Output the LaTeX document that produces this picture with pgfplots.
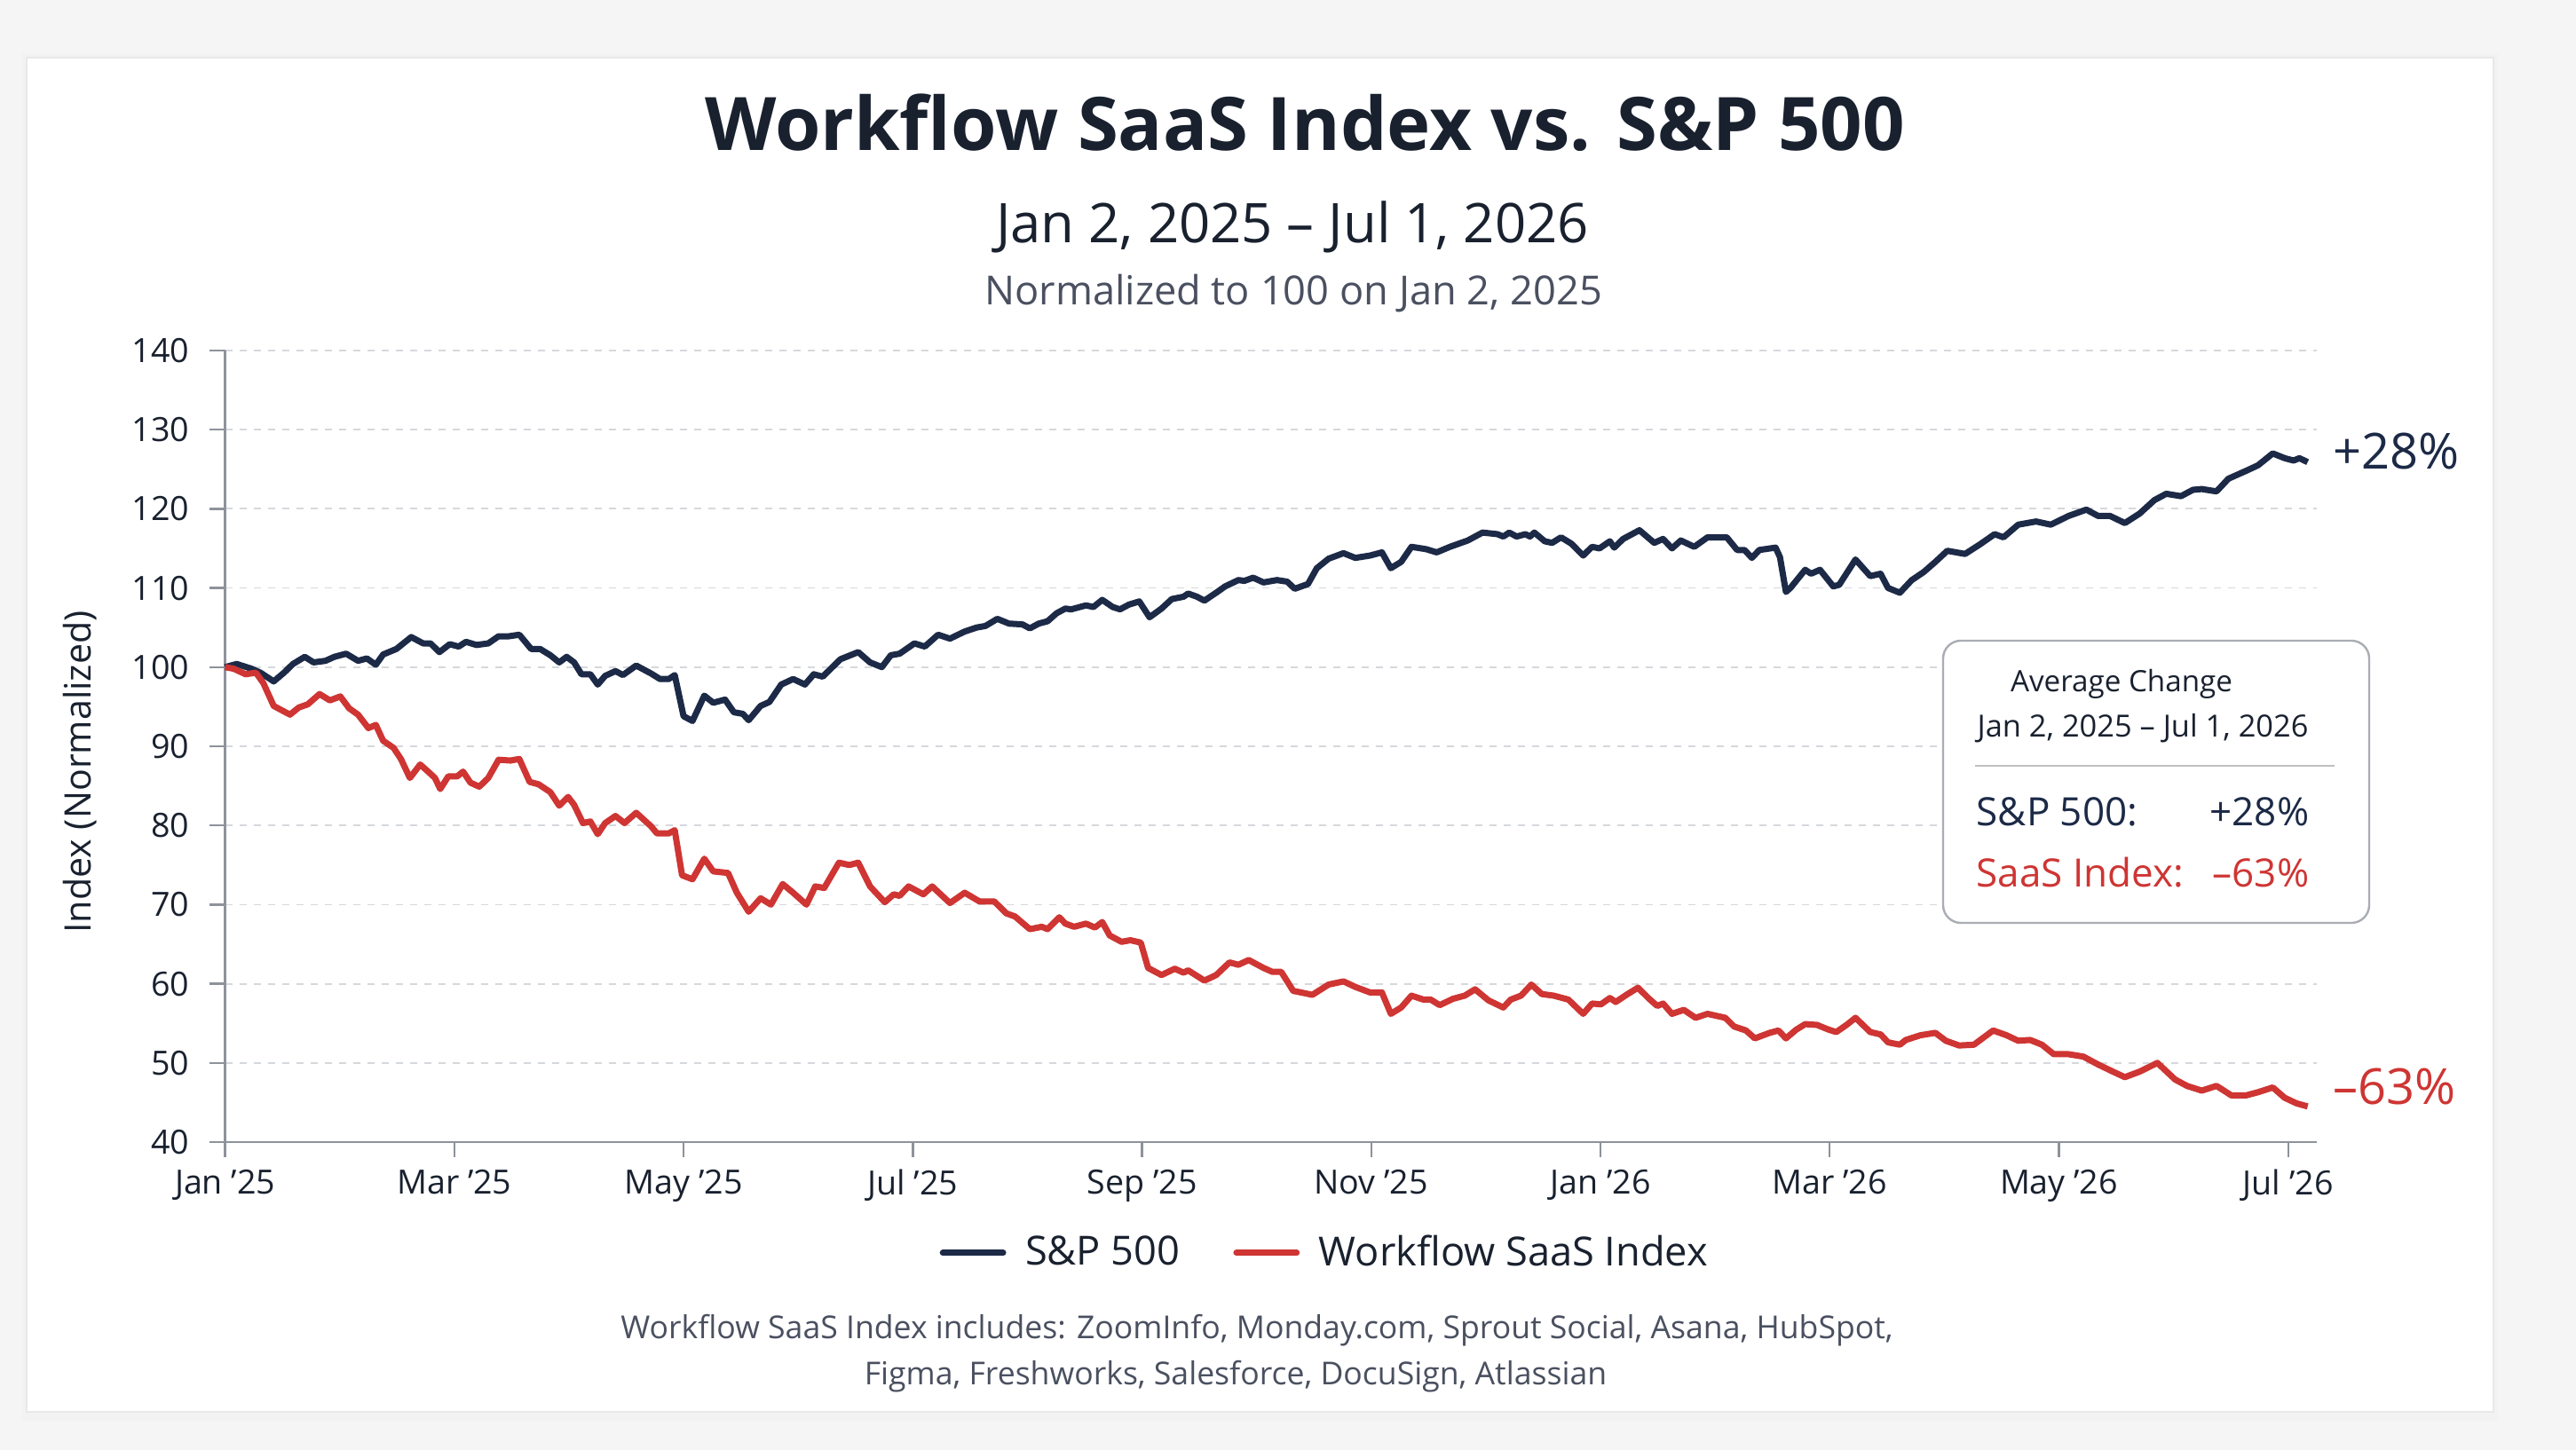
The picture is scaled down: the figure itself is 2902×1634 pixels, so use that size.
\documentclass[border=0pt]{standalone}
\usepackage{pgfplots}
\usepackage{pgfplotstable}
\pgfplotsset{compat=1.18}
\usepackage{fontspec}
\setmainfont{Open Sans}
\definecolor{navy}{HTML}{1C2A47}
\definecolor{sred}{HTML}{CE3533}
\definecolor{txt}{HTML}{19212F}
\definecolor{subgray}{HTML}{4A5060}
\definecolor{axgray}{HTML}{8D929B}
\definecolor{gridgray}{HTML}{D5D8DC}
\definecolor{bg}{HTML}{F5F5F5}

\pgfplotstableread{
x y
0 100.0
0.101 100.4
0.230 99.8
0.308 99.3
0.424 98.2
0.514 99.3
0.592 100.4
0.695 101.3
0.772 100.6
0.876 100.8
0.953 101.3
1.056 101.7
1.160 100.8
1.237 101.1
1.315 100.3
1.379 101.6
1.495 102.3
1.624 103.8
1.728 103.0
1.792 103.0
1.870 101.9
1.960 102.9
2.038 102.6
2.102 103.2
2.193 102.8
2.296 103.0
2.386 103.9
2.477 103.9
2.567 104.1
2.670 102.3
2.748 102.3
2.838 101.5
2.915 100.6
2.980 101.3
3.045 100.6
3.109 99.1
3.187 99.1
3.251 97.8
3.316 98.9
3.406 99.5
3.471 99.0
3.587 100.2
3.716 99.2
3.794 98.5
3.871 98.5
3.923 99.0
4.000 93.8
4.078 93.2
4.181 96.4
4.259 95.5
4.362 95.9
4.439 94.3
4.517 94.1
4.568 93.3
4.672 95.1
4.749 95.6
4.852 97.8
4.956 98.5
5.059 97.8
5.136 99.1
5.214 98.8
5.369 101.0
5.524 101.9
5.627 100.6
5.730 100.0
5.808 101.5
5.885 101.7
6.014 103.0
6.105 102.6
6.221 104.1
6.324 103.6
6.453 104.5
6.556 105.0
6.634 105.2
6.737 106.1
6.840 105.5
6.957 105.4
7.021 104.9
7.099 105.5
7.176 105.8
7.254 106.8
7.331 107.4
7.382 107.3
7.511 107.8
7.576 107.6
7.653 108.5
7.744 107.6
7.808 107.3
7.886 107.9
7.976 108.3
8.066 106.3
8.170 107.4
8.260 108.6
8.363 108.9
8.402 109.3
8.479 108.9
8.544 108.4
8.647 109.4
8.725 110.2
8.841 111.0
8.893 110.9
8.970 111.3
9.060 110.7
9.177 111.0
9.267 110.8
9.332 109.9
9.448 110.5
9.525 112.5
9.628 113.7
9.758 114.4
9.861 113.8
9.990 114.1
10.093 114.5
10.171 112.5
10.261 113.3
10.351 115.2
10.480 114.9
10.571 114.5
10.687 115.2
10.842 116.0
10.971 117.0
11.101 116.8
11.152 116.5
11.204 117.0
11.268 116.5
11.346 116.8
11.385 116.5
11.423 117.0
11.514 115.9
11.578 115.7
11.656 116.4
11.746 115.6
11.849 114.1
11.927 115.2
11.991 115.0
12.082 115.9
12.120 115.1
12.198 116.2
12.340 117.3
12.469 115.7
12.546 116.2
12.624 115.0
12.701 116.0
12.818 115.2
12.934 116.4
13.102 116.4
13.192 114.8
13.257 114.8
13.321 113.8
13.386 114.8
13.528 115.1
13.566 113.9
13.618 109.5
13.657 110.0
13.786 112.3
13.837 111.8
13.915 112.3
14.031 110.2
14.083 110.4
14.225 113.6
14.354 111.5
14.444 111.8
14.509 110.0
14.612 109.4
14.716 111.0
14.819 112.0
14.922 113.3
15.026 114.7
15.181 114.3
15.310 115.5
15.439 116.8
15.516 116.4
15.645 118.0
15.800 118.4
15.929 118.0
16.084 119.1
16.239 119.9
16.342 119.1
16.446 119.1
16.575 118.2
16.704 119.4
16.833 121.1
16.936 121.9
17.065 121.6
17.169 122.4
17.246 122.5
17.375 122.2
17.478 123.8
17.633 124.8
17.737 125.5
17.866 127.0
17.969 126.4
18.047 126.1
18.098 126.4
18.170 125.9
}\spdata

\pgfplotstableread{
x y
0 100.0
0.075 99.8
0.179 99.1
0.269 99.3
0.333 98.0
0.424 95.1
0.488 94.6
0.566 94.0
0.643 94.9
0.721 95.3
0.824 96.6
0.914 95.8
1.005 96.3
1.082 94.8
1.160 94.0
1.250 92.3
1.315 92.7
1.379 90.7
1.470 89.8
1.534 88.4
1.612 86.0
1.702 87.7
1.779 86.7
1.831 86.0
1.877 84.6
1.947 86.2
2.025 86.2
2.076 86.8
2.141 85.4
2.218 84.9
2.296 86.0
2.386 88.3
2.489 88.2
2.567 88.4
2.657 85.5
2.735 85.2
2.838 84.2
2.915 82.5
2.993 83.6
3.045 82.6
3.122 80.3
3.187 80.5
3.251 78.9
3.316 80.3
3.406 81.2
3.484 80.3
3.587 81.6
3.716 79.9
3.768 79.0
3.871 79.0
3.923 79.4
3.987 73.7
4.078 73.2
4.181 75.8
4.259 74.2
4.388 74.0
4.465 71.5
4.568 69.1
4.672 70.8
4.762 70.0
4.865 72.6
4.956 71.5
5.072 70.0
5.149 72.3
5.227 72.1
5.356 75.3
5.446 75.0
5.524 75.3
5.627 72.3
5.756 70.3
5.834 71.3
5.885 71.1
5.963 72.3
6.092 71.3
6.169 72.3
6.324 70.2
6.453 71.5
6.582 70.4
6.711 70.4
6.815 68.9
6.892 68.5
7.021 66.9
7.125 67.2
7.176 66.9
7.279 68.4
7.331 67.6
7.408 67.2
7.511 67.6
7.589 67.1
7.653 67.8
7.718 66.1
7.821 65.3
7.899 65.5
7.989 65.2
8.053 62.0
8.170 61.1
8.286 61.9
8.363 61.4
8.402 61.7
8.544 60.4
8.647 61.1
8.763 62.7
8.841 62.4
8.931 63.0
9.060 62.0
9.138 61.5
9.215 61.5
9.319 59.1
9.422 58.8
9.486 58.6
9.628 59.9
9.758 60.3
9.861 59.6
9.990 58.9
10.093 58.9
10.171 56.2
10.261 57.0
10.351 58.5
10.455 58.0
10.519 58.0
10.597 57.3
10.713 58.1
10.816 58.5
10.906 59.3
11.023 57.9
11.152 57.0
11.217 58.0
11.307 58.5
11.397 59.9
11.488 58.7
11.591 58.5
11.720 58.0
11.849 56.2
11.927 57.5
12.004 57.4
12.082 58.2
12.133 57.7
12.237 58.7
12.327 59.5
12.417 58.2
12.495 57.2
12.546 57.5
12.624 56.2
12.727 56.7
12.830 55.7
12.934 56.2
13.089 55.7
13.166 54.6
13.269 54.1
13.347 53.1
13.476 53.8
13.553 54.1
13.618 53.1
13.708 54.2
13.786 54.9
13.889 54.8
13.992 54.2
14.057 53.9
14.147 54.8
14.225 55.7
14.354 53.9
14.444 53.6
14.509 52.6
14.612 52.3
14.664 52.9
14.793 53.5
14.922 53.8
15.013 52.8
15.129 52.2
15.258 52.3
15.426 54.1
15.542 53.5
15.645 52.8
15.749 52.9
15.852 52.3
15.955 51.1
16.084 51.1
16.213 50.8
16.342 49.8
16.471 48.9
16.575 48.2
16.704 48.9
16.859 50.0
17.014 47.9
17.117 47.1
17.246 46.5
17.375 47.1
17.504 45.9
17.633 45.9
17.737 46.3
17.866 46.9
17.969 45.6
18.072 44.9
18.170 44.5
}\saasdata

\begin{document}
\begin{tikzpicture}
\begin{scope}[x=0.25pt,y=-0.25pt]
\fill[bg] (0,0) rectangle (2902,1634);
\fill[black!5] (24,60) rectangle (2815,1601);
\fill[white,draw=black!9,line width=0.4pt] (30,65) rectangle (2809,1591);
\node[anchor=base,inner sep=0,font=\fontsize{20.8}{25}\selectfont\bfseries,text=txt] at (1470,170) {Workflow SaaS Index vs. S\&P 500};
\node[anchor=base,inner sep=0,font=\fontsize{15.4}{18}\selectfont,text=txt] at (1456,274) {Jan 2, 2025 – Jul 1, 2026};
\node[anchor=base,inner sep=0,font=\fontsize{11.3}{13}\selectfont,text=subgray] at (1457,344) {Normalized to 100 on Jan 2, 2025};
\node[rotate=90,inner sep=0,font=\fontsize{10.3}{12}\selectfont,text=txt] at (90,870) {Index (Normalized)};
\node[anchor=base,inner sep=0,font=\fontsize{8.9}{10}\selectfont,text=subgray] at (1416,1508) {Workflow SaaS Index includes: ZoomInfo, Monday.com, Sprout Social, Asana, HubSpot,};
\node[anchor=base,inner sep=0,font=\fontsize{8.9}{10}\selectfont,text=subgray] at (1392,1560) {Figma, Freshworks, Salesforce, DocuSign, Atlassian};
\end{scope}

\begin{axis}[
  at={(63.4pt,-321.75pt)}, anchor=south west,
  scale only axis, width=589.1pt, height=223pt,
  xmin=0, xmax=18.25, ymin=40, ymax=140,
  axis x line*=bottom, axis y line*=left,
  axis line style={axgray, line width=0.6pt, -},
  xtick={0,2,4,6,8,10,12,14,16,18},
  xticklabels={Jan '25,Mar '25,May '25,Jul '25,Sep '25,Nov '25,Jan '26,Mar '26,May '26,Jul '26},
  ytick={40,50,...,140},
  tick align=outside, major tick length=4.3pt,
  tick style={axgray, line width=0.6pt},
  ymajorgrids, grid style={gridgray, line width=0.45pt, dash pattern=on 2pt off 2pt},
  ticklabel style={font=\fontsize{9.4}{11}\selectfont, text=txt},
  yticklabel style={xshift=-2.3pt},
  /pgf/number format/assume math mode=true,
  clip=false,
  legend columns=2,
  legend style={at={(0.527,-0.140)}, anchor=center, draw=none, fill=none,
    font=\fontsize{11.3}{13}\selectfont, text=txt,
    /tikz/every odd column/.append style={column sep=3.4pt},
    /tikz/every even column/.append style={column sep=13pt}},
  legend image code/.code={\draw[#1, line width=1.7pt, line cap=round] (0pt,0pt) -- (17pt,0pt);},
]
\addplot[navy, line width=1.75pt, line join=round] table[x=x,y=y] {\spdata};
\addlegendentry{S\&P 500}
\addplot[sred, line width=1.75pt, line join=round] table[x=x,y=y] {\saasdata};
\addlegendentry{Workflow SaaS Index}
\node[anchor=west,inner sep=0,font=\fontsize{14}{16}\selectfont,text=navy] at (axis cs:18.39,127.3) {+28\%};
\node[anchor=west,inner sep=0,font=\fontsize{14}{16}\selectfont,text=sred] at (axis cs:18.39,47.05) {–63\%};
\end{axis}

\begin{scope}[x=0.25pt,y=-0.25pt]
\draw[axgray!75, line width=0.6pt, fill=white, rounded corners=5pt] (2189,722) rectangle (2669,1040);
\draw[black!25, line width=0.5pt] (2225,863) -- (2630,863);
\node[anchor=base,inner sep=0,font=\fontsize{8.3}{10}\selectfont,text=txt] at (2390,780) {Average Change};
\node[anchor=base,inner sep=0,font=\fontsize{8.6}{10}\selectfont,text=txt] at (2414,831) {Jan 2, 2025 – Jul 1, 2026};
\node[anchor=base west,inner sep=0,font=\fontsize{11}{13}\selectfont,text=navy] at (2226,931) {S\&P 500:};
\node[anchor=base east,inner sep=0,font=\fontsize{11}{13}\selectfont,text=navy] at (2602,931) {+28\%};
\node[anchor=base west,inner sep=0,font=\fontsize{11}{13}\selectfont,text=sred] at (2226,1000) {SaaS Index:};
\node[anchor=base east,inner sep=0,font=\fontsize{11}{13}\selectfont,text=sred] at (2602,1000) {–63\%};
\end{scope}
\end{tikzpicture}
\end{document}
